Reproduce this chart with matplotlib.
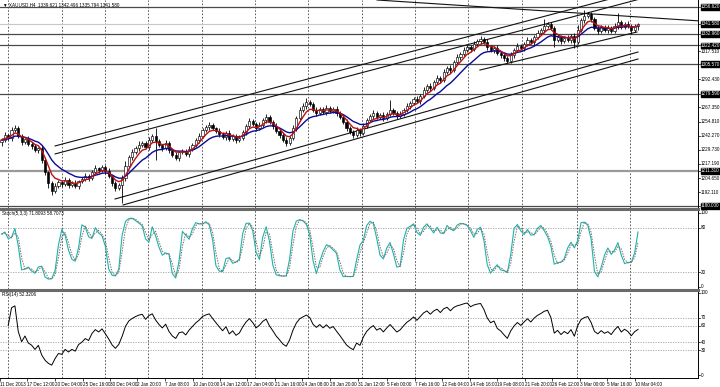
import matplotlib
matplotlib.use("Agg")
import matplotlib.pyplot as plt
from matplotlib.lines import Line2D
import numpy as np
import pandas as pd

plt.rcParams["font.family"] = ["Liberation Sans", "DejaVu Sans"]

# XAUUSD H4 (one candle per 8 hours)
firstOpen = 1236.5
closes = [
    1238.5, 1242.9, 1240.3, 1247.4, 1249.1, 1242.0, 1236.7, 1239.4, 1234.9, 1233.2,
    1229.6, 1231.4, 1220.7, 1210.1, 1200.3, 1193.2, 1197.6, 1201.2, 1199.4, 1202.9,
    1198.5, 1200.3, 1197.6, 1202.1, 1203.9, 1206.5, 1204.7, 1210.1, 1213.6, 1211.8,
    1214.5, 1210.9, 1206.5, 1200.3, 1195.9, 1198.5, 1204.7, 1215.4, 1223.4, 1227.8,
    1231.4, 1234.2, 1235.8, 1232.3, 1238.5, 1242.0, 1237.6, 1234.2, 1231.4, 1235.8,
    1229.6, 1225.1, 1222.5, 1227.8, 1228.7, 1226.0, 1230.5, 1234.2, 1238.5, 1242.0,
    1247.4, 1250.0, 1251.8, 1249.1, 1246.5, 1243.8, 1241.1, 1244.7, 1239.4, 1242.0,
    1238.5, 1240.3, 1245.6, 1250.9, 1255.3, 1252.7, 1249.1, 1251.8, 1256.2, 1258.9,
    1254.5, 1250.9, 1246.5, 1242.9, 1238.5, 1235.8, 1240.3, 1249.1, 1258.0, 1265.1,
    1268.7, 1272.2, 1270.4, 1265.1, 1262.5, 1266.0, 1263.3, 1266.9, 1264.2, 1266.0,
    1262.5, 1258.9, 1254.5, 1249.1, 1245.6, 1242.9, 1247.4, 1244.7, 1250.9, 1256.2,
    1259.8, 1262.5, 1258.9, 1260.7, 1258.0, 1261.6, 1265.1, 1262.5, 1259.8, 1261.6,
    1265.1, 1268.7, 1271.3, 1274.9, 1273.1, 1277.6, 1282.9, 1286.4, 1284.7, 1290.0,
    1293.5, 1291.8, 1298.9, 1302.4, 1300.6, 1307.7, 1312.2, 1314.8, 1318.4, 1321.1,
    1319.3, 1323.7, 1326.4, 1328.2, 1325.5, 1321.1, 1318.4, 1320.2, 1315.7, 1314.0,
    1311.3, 1308.6, 1314.0, 1318.4, 1322.0, 1320.2, 1323.7, 1327.3, 1325.5, 1329.9,
    1333.5, 1336.2, 1339.7, 1341.5, 1337.9, 1327.3, 1329.9, 1326.4, 1329.1, 1327.3,
    1330.8, 1325.5, 1336.2, 1345.0, 1348.6, 1350.4, 1345.9, 1337.9, 1335.3, 1338.8,
    1336.2, 1337.9, 1335.3, 1339.7, 1343.3, 1338.8, 1341.5, 1339.7, 1336.2, 1339.6,
    1341.58,
]
upWick = [
    2, 3, 1, 3, 3, 2, 2, 1, 3, 2,
    2, 1, 3, 2, 1, 2, 3, 2, 1, 3,
    2, 2, 3, 1, 2, 3, 2, 2, 3, 1,
    2, 2, 3, 1, 2, 2, 3, 4, 2, 3,
    2, 3, 2, 2, 3, 2, 7, 2, 1, 3,
    2, 2, 3, 1, 2, 2, 3, 2, 2, 3,
    2, 2, 3, 2, 1, 3, 2, 2, 3, 2,
    2, 3, 2, 2, 3, 2, 2, 3, 2, 3,
    2, 2, 3, 2, 2, 3, 2, 3, 2, 3,
    3, 4, 2, 2, 3, 2, 2, 3, 2, 2,
    3, 2, 2, 3, 2, 2, 3, 2, 3, 2,
    2, 3, 2, 2, 3, 2, 9, 2, 2, 3,
    2, 3, 2, 2, 3, 2, 3, 2, 3, 2,
    3, 2, 3, 2, 3, 2, 3, 2, 3, 2,
    2, 3, 2, 3, 2, 3, 2, 2, 3, 2,
    2, 2, 3, 2, 3, 2, 2, 3, 2, 2,
    3, 2, 6, 2, 2, 2, 3, 2, 2, 3,
    2, 3, 4, 2, 5, 2, 2, 2, 3, 2,
    2, 3, 2, 3, 8, 2, 2, 3, 2, 2,
    0.9,
]
loWick = [
    3, 2, 2, 3, 2, 2, 3, 2, 2, 3,
    2, 3, 3, 3, 4, 4, 2, 2, 3, 2,
    3, 2, 2, 3, 2, 2, 3, 2, 2, 3,
    2, 3, 2, 3, 3, 2, 16, 3, 2, 3,
    2, 3, 2, 2, 3, 2, 17, 2, 3, 2,
    3, 2, 2, 3, 2, 2, 3, 2, 2, 3,
    2, 2, 3, 2, 2, 3, 2, 3, 2, 2,
    3, 2, 2, 3, 2, 2, 3, 2, 2, 3,
    2, 3, 2, 3, 2, 3, 2, 2, 3, 2,
    2, 3, 2, 2, 3, 2, 2, 3, 2, 2,
    3, 2, 2, 3, 2, 3, 2, 3, 2, 2,
    2, 3, 2, 2, 3, 2, 2, 2, 3, 2,
    2, 2, 3, 2, 2, 3, 2, 2, 3, 2,
    2, 3, 2, 2, 3, 2, 2, 3, 2, 2,
    3, 2, 2, 3, 2, 3, 2, 3, 2, 3,
    3, 2, 2, 3, 2, 2, 3, 2, 2, 3,
    2, 2, 3, 2, 2, 6, 2, 3, 2, 2,
    3, 5, 2, 2, 3, 2, 3, 2, 3, 2,
    2, 3, 2, 2, 3, 2, 2, 2, 4, 2,
    3.8,
]

# horizontal lines drawn on the chart (boxed labels on the price scale)
levelPrices = [1356.620, 1332.960, 1322.420, 1305.570, 1279.590, 1180.000]
grayLevel = 1211.310
bidPrice = 1341.580
scalePrices = [1317.510, 1292.430, 1267.350, 1254.810, 1242.270, 1229.730,
               1217.190, 1204.650, 1192.110]

# trend lines (bar, price) -> (bar, price)
trendLines = [
    ((112.1, 1362.8), (208.5, 1344.2)),
    ((16.0, 1233.2), (190.0, 1370.3)),
    ((16.0, 1226.1), (192.0, 1364.8)),
    ((33.9, 1186.1), (190.0, 1316.6)),
    ((36.3, 1180.8), (190.0, 1310.4)),
    ((142.8, 1300.6), (189.7, 1334.4)),
]

dateLabels = ["11 Dec 2013", "17 Dec 12:00", "20 Dec 04:00", "25 Dec 16:00",
              "30 Dec 04:00", "2 Jan 20:00", "7 Jan 08:00", "10 Jan 00:00",
              "14 Jan 12:00", "17 Jan 04:00", "21 Jan 16:00", "24 Jan 08:00",
              "28 Jan 20:00", "31 Jan 12:00", "5 Feb 00:00", "7 Feb 16:00",
              "12 Feb 04:00", "14 Feb 16:00", "19 Feb 08:00", "21 Feb 20:00",
              "26 Feb 12:00", "3 Mar 00:00", "5 Mar 16:00", "10 Mar 04:00"]
datePx = [0, 27, 55, 83, 110, 137, 165, 193, 220, 247, 275, 302, 330, 358,
          387, 415, 442, 470, 497, 525, 552, 580, 607, 635]
weekPx = [8, 62, 105, 148, 202, 255, 308, 362, 415, 468, 522, 577, 630]

# ---- layout (pixels) ----
W, H = 720.0, 387.0
plotW = 698.0
pxPerBar = 3.35
x0 = -0.45
x1 = x0 + plotW / pxPerBar
fs = 3.3


def px2bar(px):
    return x0 + px / pxPerBar


fig = plt.figure(figsize=(7.2, 3.87), dpi=100)
fig.patch.set_facecolor("white")


def panel(top, bottom):
    ax = fig.add_axes([0, 1 - bottom / H, plotW / W, (bottom - top) / H])
    ax.set_xlim(x0, x1)
    for s in ax.spines.values():
        s.set_visible(False)
    ax.set_xticks([])
    ax.set_yticks([])
    for p in weekPx:
        ax.axvline(px2bar(p), color="#444444", lw=0.6, ls=(0, (2, 2)), zorder=0)
    return ax


axMain = panel(0, 208)
axSto = panel(210, 289)
axRsi = panel(291, 378)
axMain.set_ylim(1362.8 - 208 * 0.888, 1362.8)
axSto.set_ylim(100 - 76 / 0.74, 100 + 3 / 0.74)
axRsi.set_ylim(100 - 87 / 0.84, 100 + 2 / 0.84)

# ---- candles ----
n = len(closes)
xs = np.arange(n)
c = np.array(closes)
o = np.array([firstOpen] + closes[:-1])
hi = np.maximum(o, c) + np.array(upWick[:n])
lo = np.minimum(o, c) - np.array(loWick[:n])

axMain.vlines(xs, lo, hi, color="black", lw=0.6, zorder=3)
bull = c >= o
axMain.bar(xs[bull], (c - o)[bull], bottom=o[bull], width=0.65, color="white",
           edgecolor="black", linewidth=0.45, zorder=4)
axMain.bar(xs[~bull], (o - c)[~bull], bottom=c[~bull], width=0.65, color="black",
           edgecolor="black", linewidth=0.45, zorder=4)

cs = pd.Series(c)
redMa = cs.ewm(span=5, adjust=False).mean()
blueMa = cs.ewm(span=12, adjust=False).mean()
axMain.plot(xs, blueMa, color="#0a0a9a", lw=1.0, zorder=5)
axMain.plot(xs, redMa, color="#c01010", lw=1.0, zorder=6)

for p in levelPrices:
    axMain.axhline(p, color="#4a4a4a", lw=0.9, zorder=2)
axMain.axhline(grayLevel, color="#9a9a9a", lw=1.6, zorder=2)
axMain.axhline(bidPrice, color="#c8c8c8", lw=0.8, zorder=1)
for (a, b) in trendLines:
    axMain.plot([a[0], b[0]], [a[1], b[1]], color="#111111", lw=0.8, zorder=2)

axMain.text(0.004, 0.99, "\u25bc XAUUSD,H4  1339.621 1342.496 1335.794 1341.580",
            transform=axMain.transAxes, fontsize=fs, va="top", ha="left")

# ---- stochastic ----
hh = pd.Series(hi).rolling(3, min_periods=1).max()
ll = pd.Series(lo).rolling(3, min_periods=1).min()
kLine = 100 * (cs - ll).rolling(2, min_periods=1).sum() / (hh - ll).rolling(2, min_periods=1).sum()
dLine = kLine.rolling(2, min_periods=1).mean()
for lv in [80, 20]:
    axSto.axhline(lv, color="#a0a0a0", lw=0.6, ls=(0, (1.5, 1.5)))
axSto.plot(xs, kLine, color="#20b2aa", lw=0.8)
axSto.plot(xs, dLine, color="#7a6e6e", lw=0.7, ls=(0, (1.5, 1.2)))
axSto.text(0.003, 0.985, "Stoch(5,3,3) 71.8093 58.7073", transform=axSto.transAxes,
           fontsize=fs, va="top", ha="left")

# ---- RSI ----
diff = cs.diff().fillna(0)
gain = diff.clip(lower=0).ewm(alpha=1 / 10, adjust=False).mean()
loss = (-diff).clip(lower=0).ewm(alpha=1 / 10, adjust=False).mean()
rsi = 100 - 100 / (1 + gain / loss.replace(0, np.nan))
for lv in [70, 60, 40, 30]:
    axRsi.axhline(lv, color="#a0a0a0", lw=0.6, ls=(0, (1.5, 1.5)))
axRsi.plot(xs[1:], rsi[1:], color="black", lw=0.7)
axRsi.text(0.003, 0.985, "RSI(14) 52.3206", transform=axRsi.transAxes,
           fontsize=fs, va="top", ha="left")

# ---- right price scale ----
def scaleLabel(ax, v, txt, boxed=False):
    tr = ax.get_yaxis_transform()
    ax.plot([1.0, 1.0 + 2 / plotW], [v, v], color="black", lw=0.5,
            transform=tr, clip_on=False)
    kw = dict(transform=tr, fontsize=fs, va="center", ha="left", clip_on=False)
    if boxed:
        ax.text(1.0 + 3 / plotW, v, txt, color="white",
                bbox=dict(boxstyle="square,pad=0.1", fc="black", ec="black"), **kw)
    else:
        ax.text(1.0 + 3 / plotW, v, txt, color="black", **kw)


for p in scalePrices:
    scaleLabel(axMain, p, "%.3f" % p)
for p in levelPrices + [grayLevel, bidPrice]:
    scaleLabel(axMain, p, "%.3f" % p, boxed=True)
for v in [100, 80, 20, 0]:
    scaleLabel(axSto, v, str(v))
for v in [100, 70, 60, 40, 30, 0]:
    scaleLabel(axRsi, v, str(v))

# ---- date axis ----
axRsi.set_xticks([px2bar(p) for p in datePx])
axRsi.set_xticklabels(dateLabels, fontsize=fs, ha="left")
axRsi.tick_params(axis="x", length=2, width=0.5, pad=1)

# frame lines and panel separators
fig.add_artist(Line2D([plotW / W, plotW / W], [1 - 378 / H, 1], color="black", lw=0.7))
fig.add_artist(Line2D([0, plotW / W], [1 - 378 / H, 1 - 378 / H], color="black", lw=0.7))
for yy in [209, 290]:
    fig.add_artist(Line2D([0, plotW / W], [1 - yy / H, 1 - yy / H], color="#6a6a6a", lw=2.2))

fig.savefig("out.png", dpi=100)
